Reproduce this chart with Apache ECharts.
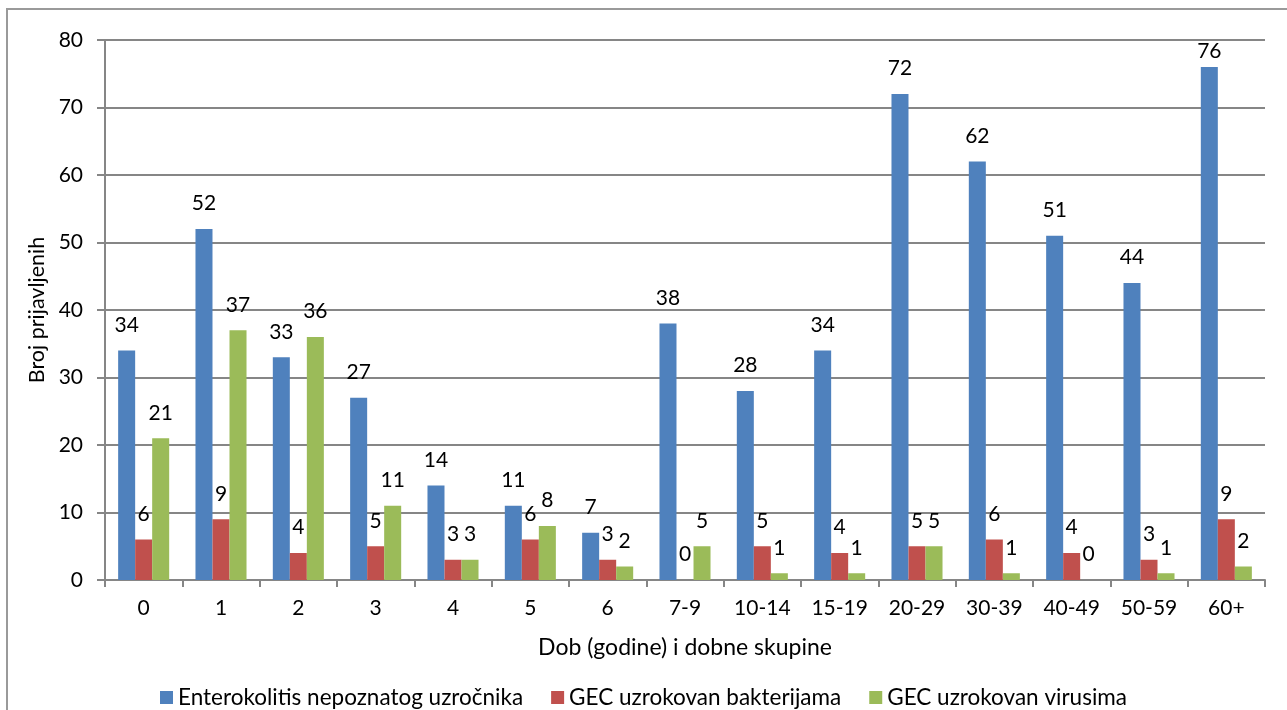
<!DOCTYPE html>
<html><head><meta charset="utf-8">
<script src="https://cdn.jsdelivr.net/npm/echarts@6/dist/echarts.min.js"></script>
<style>html,body{margin:0;padding:0;background:#fff}#c{width:1287px;height:710px}</style>
</head><body><div id="c"></div>
<script>
const categories = ['0','1','2','3','4','5','6','7-9','10-14','15-19','20-29','30-39','40-49','50-59','60+'];
const seriesNames = ['Enterokolitis nepoznatog uzročnika','GEC uzrokovan bakterijama','GEC uzrokovan virusima'];
const enterokolitis = [34,52,33,27,14,11,7,38,28,34,72,62,51,44,76];
const bakterije = [6,9,4,5,3,6,3,0,5,4,5,6,4,3,9];
const virusi = [21,37,36,11,3,8,2,5,1,1,5,1,0,1,2];
const colors = ['#4F81BD','#C0504D','#9BBB59'];
const font = 'Lato, "Noto Sans", sans-serif';

const chart = echarts.init(document.getElementById('c'));
function mk(name, data, color){
  return {name, type:'bar', data, barGap:'0%', barCategoryGap:'34%',
    itemStyle:{color},
    label:{show:true, position:'top', distance:15, color:'#000', fontSize:21, fontFamily:font},
    labelLayout:function(p){ const r = p.labelRect; return (r && r.y < 41) ? {dy: 41 - r.y} : {}; }};
}
chart.setOption({
  animation:false,
  textStyle:{fontFamily:font},
  graphic:[{type:'rect', shape:{x:7,y:9,width:1300,height:720}, style:{fill:'none', stroke:'#9a9a9a', lineWidth:2}, silent:true, z:-1}],
  grid:{left:105, right:22, top:40, bottom:130},
  legend:{top:681, left:'center', itemWidth:13, itemHeight:13, itemGap:28, icon:'rect',
    textStyle:{fontSize:22.5, color:'#000', fontFamily:font}, data:seriesNames},
  xAxis:{type:'category', data:categories,
    name:'Dob (godine) i dobne skupine', nameLocation:'middle', nameGap:56,
    nameTextStyle:{fontSize:23, color:'#000', fontFamily:font},
    axisLine:{lineStyle:{color:'#868686', width:2}},
    axisTick:{show:true, length:7, lineStyle:{color:'#868686', width:2}},
    axisLabel:{fontSize:21, color:'#000', margin:18, fontFamily:font, interval:0}},
  yAxis:{type:'value', min:0, max:80, interval:10,
    name:'Broj prijavljenih', nameLocation:'middle', nameGap:57,
    nameTextStyle:{fontSize:21.5, color:'#000', fontFamily:font},
    axisLine:{show:true, lineStyle:{color:'#868686', width:2}},
    axisTick:{show:true, length:8, lineStyle:{color:'#868686', width:2}},
    splitLine:{lineStyle:{color:'#868686', width:2}},
    axisLabel:{fontSize:21, color:'#000', margin:22, fontFamily:font}},
  series:[mk(seriesNames[0], enterokolitis, colors[0]), mk(seriesNames[1], bakterije, colors[1]), mk(seriesNames[2], virusi, colors[2])]
});
</script></body></html>
